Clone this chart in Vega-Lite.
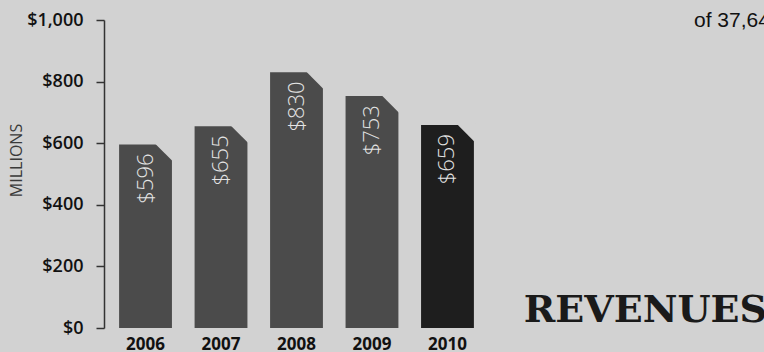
{
  "$schema": "https://vega.github.io/schema/vega-lite/v6.json",
  "width": 660,
  "height": 308,
  "autosize": {"type": "none"},
  "padding": {"left": 104, "top": 20, "right": 0, "bottom": 24},
  "background": "#d2d2d2",
  "config": {"view": {"stroke": null}, "font": "Open Sans"},
  "data": {
    "values": [
      {"year": "2006", "value": 596},
      {"year": "2007", "value": 655},
      {"year": "2008", "value": 830},
      {"year": "2009", "value": 753},
      {"year": "2010", "value": 659}
    ]
  },
  "encoding": {
    "x": {
      "field": "year",
      "type": "ordinal",
      "scale": {"range": [0, 385], "paddingInner": 0.3, "paddingOuter": 0.2},
      "axis": {
        "title": null,
        "domain": false,
        "ticks": false,
        "labelAngle": 0,
        "labelFontSize": 17,
        "labelFontWeight": "bold",
        "labelColor": "#111111",
        "labelPadding": 8
      }
    },
    "y": {
      "field": "value",
      "type": "quantitative",
      "scale": {"domain": [0, 1000]},
      "axis": {
        "title": "MILLIONS",
        "titleFontSize": 16,
        "titleFontWeight": "normal",
        "titleColor": "#3a3a3a",
        "titlePadding": 2,
        "titleY": 140,
        "values": [0, 200, 400, 600, 800, 1000],
        "format": "$,d",
        "grid": false,
        "tickSize": 8,
        "tickColor": "#333333",
        "tickWidth": 1.5,
        "domainColor": "#333333",
        "domainWidth": 1.5,
        "labelFontSize": 18,
        "labelFontWeight": 600,
        "labelColor": "#111111",
        "labelPadding": 13
      }
    }
  },
  "layer": [
    {
      "mark": {"type": "bar"},
      "encoding": {
        "color": {
          "condition": {"test": "datum.year === '2010'", "value": "#1e1e1e"},
          "value": "#4b4b4b"
        }
      }
    },
    {
      "mark": {
        "type": "point",
        "shape": "M -1 -1.15 L 1.15 -1.15 L 1.15 1 Z",
        "filled": true,
        "opacity": 1,
        "size": 300,
        "color": "#d2d2d2",
        "xOffset": 17.8,
        "yOffset": 8.7
      }
    },
    {
      "mark": {
        "type": "text",
        "angle": 270,
        "align": "right",
        "baseline": "middle",
        "dx": -9,
        "fontSize": 22,
        "fontWeight": 300,
        "color": "#e4e4e4"
      },
      "encoding": {
        "text": {"field": "value", "type": "quantitative", "format": "$,d"}
      }
    },
    {
      "data": {"values": [{}]},
      "mark": {"type": "rule", "strokeWidth": 2, "color": "#111111"},
      "encoding": {"x": null, "y": {"datum": 0, "type": "quantitative"}}
    },
    {
      "data": {"values": [{"t": "REVENUES"}]},
      "mark": {
        "type": "text",
        "align": "right",
        "baseline": "alphabetic",
        "font": "DejaVu Serif",
        "fontWeight": "bold",
        "fontSize": 38,
        "dx": 3,
        "dy": -6,
        "color": "#1a1a1a"
      },
      "encoding": {
        "x": {"value": "width"},
        "y": {"value": "height"},
        "text": {"field": "t"}
      }
    },
    {
      "data": {"values": [{"t": "of 37,64"}]},
      "mark": {
        "type": "text",
        "align": "left",
        "baseline": "alphabetic",
        "font": "Liberation Sans",
        "fontSize": 21,
        "dx": -70,
        "dy": 7,
        "color": "#111111"
      },
      "encoding": {
        "x": {"value": "width"},
        "y": {"value": 0},
        "text": {"field": "t"}
      }
    }
  ]
}
